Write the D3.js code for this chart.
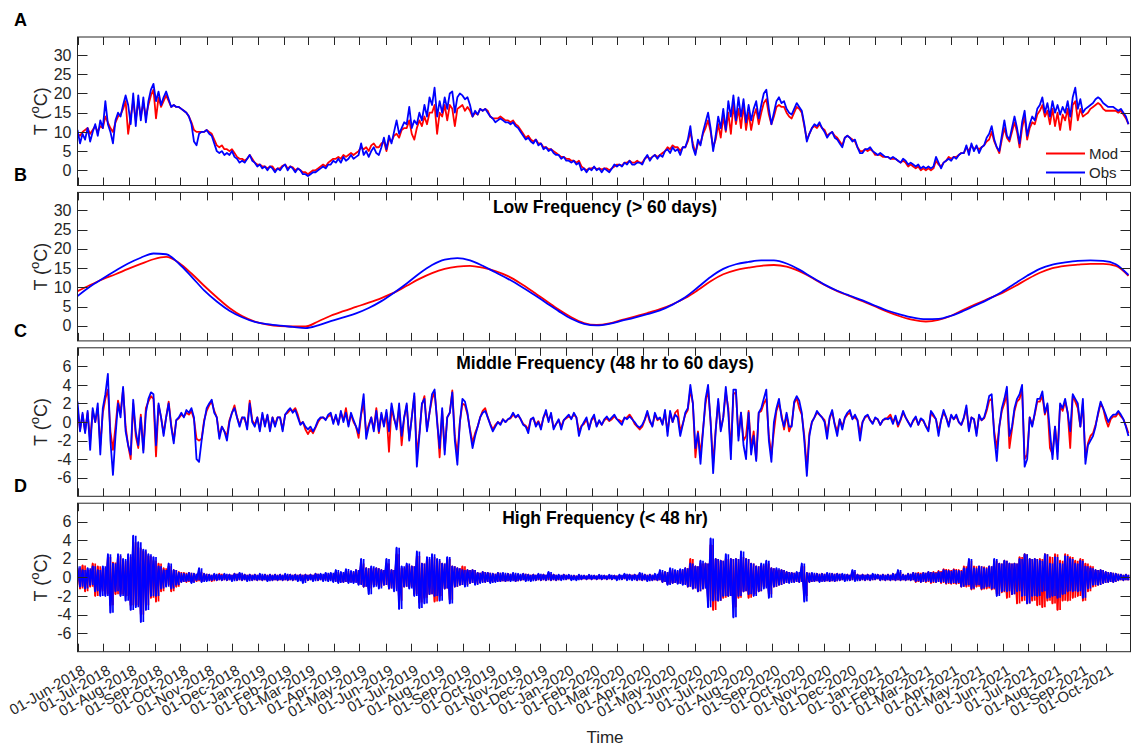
<!DOCTYPE html>
<html>
<head>
<meta charset="utf-8">
<script src="https://cdn.jsdelivr.net/npm/d3@7"></script>
<style>
  body { margin: 0; background: #fff; }
  svg { display: block; font-family: "Liberation Sans", Arial, sans-serif; }
  .tick-label { fill: #262626; font-size: 16px; }
</style>
</head>
<body>
<div id="chart"></div>
<script>
// sampling of the series (days between values)
const stepFull = 3;
const stepLow = 15;

// Panel A: total temperature, 3-day samples from 01-Jun-2018
const obsTotal = [
  10.5,7,9.5,8,11,7.5,10,12,9,13,
  11,18,12,10,7,13,15,14,17,19.5,
  17,12,20,11.5,19.5,13,19,12.5,18,21,
  22.5,18,20.5,17,19,20.5,18.5,16.5,17,16.5,
  16.5,16,15.5,15,14,12,7.5,6.5,9.5,10,
  10,10.5,9.5,9,7,5,4.5,5,4,4.5,
  4,5,3.5,3,2,2.5,2,3,4,2.5,
  2,1,1.5,0.5,1,0,1,0.5,-0.5,0.5,
  0,1,1.5,0,1,0.5,-0.5,0.5,0,-1,
  -1,-1.5,-1,-0.5,-0.5,0,0.5,1,0.5,1.5,
  1.5,2.5,2,3,2,3.5,2.5,3,4,3,
  3.5,4,7,4,5,3.5,5,6,4.5,4,
  6,8.5,5.5,9,7,10,13,9.5,11,12.5,
  12,16.5,11,13,12,15,13,17,14,19,
  17,21.5,14,18,15,19,16,20,20.5,15,
  19,20,19.5,18.5,19,17,14,15.5,14.5,16,
  15.5,16,15,14,13.5,12.5,13,13.5,13,12.5,
  12.5,12,12.5,11.5,11,10,9,8,8.5,7.5,
  7,8,6.5,7,5.5,6,5,5.5,4.5,4,
  4,3,3.5,2.5,2.5,2,2.5,1.5,2,0,
  0.5,-0.5,0.5,0,1,0,0.5,-0.5,0.5,0,
  -0.5,0.5,1.5,1,1.5,1,2,1.5,2.5,1.5,
  1.5,2,2,1.5,3,4,2.5,3.5,4,3,
  4,3.5,5,5.5,4.5,6,5,5.5,4,6,
  6,8,11.5,6,4,8,6.5,10,12.5,15,
  11,5,9,14,11,16,10.5,18,14,19.5,
  13,19,14,18.5,12.5,17,13,16,18,13.5,
  17,20,21,16,12,15,18,19,17.5,18,
  16,15,14.5,16,17.5,16.5,15.5,12,7.5,9.5,
  11,12,11.5,12.5,11,10,8.5,9.5,10,8.5,
  8,7,6,8.5,9,8.5,7.5,8,6,4.5,
  4.5,5.5,5.5,6,5,4.5,4,4.5,4,3.5,
  3.5,3,3.5,3,2.5,2,3,2.5,1.5,2,
  1.5,1,1.5,0.5,1,0.5,1,0.5,1,3.5,
  2,0.5,2,2.5,3,2.5,3.5,3,4,4.5,
  4.5,6.5,4,7,5,6.5,4.5,6,6.5,8.5,
  9.5,11.5,8,6,5,9,13,9,8,11,
  14,11,7,12.5,15.5,9,12,14,13,16,
  17,19,15,17.5,14,18,15,17,14.5,16.5,
  15,18,14,19,21.5,16,18.5,15,16,16.5,
  17,17.5,18.5,19,18.5,17.5,17,16.5,16.5,16.5,
  16,15.5,16,15,14,12
];
const modTotal = [
  9.5,9,10,10.5,11,9.5,10.5,11.5,10,11.5,
  11,14,12.5,11,10,12.5,14,14.5,16,18,
  9.5,14,18,13,18,14,17.5,14,17,19.5,
  21,13.5,19,16.5,18,19.5,18,16.5,17,16.5,
  16.5,16,15.5,15,14,12.5,10.5,10,10,10,
  10,10.5,10,9.5,8,6.5,6,6.5,5.5,5.5,
  5,5.5,4.5,3.5,3,3,2.5,3,4,3,
  2,1.5,1.5,1,1,0.5,1,1,0,0.5,
  0.5,1.2,1.5,0.5,1,0.8,0,0.5,0,-0.5,
  -0.5,-1,-0.5,0,0,0.5,1,1.5,1,2,
  2.5,3,3,3.5,3,4,3.5,4,4.5,4,
  4.5,5,6,5.5,6,5,6.5,7,6,6,
  7,7.5,5,8,7.5,9,9.5,8.5,10.5,11,
  11,13,9.5,8,11,13,11.5,14,12,15,
  15,17,9.5,15,14,17,13,17,16,11.5,
  16,16.5,17,15.5,16.5,15.5,14,15,14.5,16,
  15.5,16,15.5,14,13.5,13.5,13.5,14,13.5,13,
  13,12.5,13,12,11.5,10.5,9.5,8.5,9,8,
  7.5,8,7,7,6,6,5.5,5.5,5,4.5,
  4,3.5,3.5,3,3,2.5,2.5,2,2.5,1,
  0.5,0,0.5,0.5,0.8,0.3,0.5,0.2,0.5,0.5,
  0,0.5,1,1.5,1.5,1.2,2,2,2.5,2,
  2,2.5,2,2,3,3.5,3,3.5,4,3.5,
  4,4.5,5,6,5.5,6.5,6,6,5,6,
  6,7.5,10,7,4.5,7,7,9.5,11,13,
  10,6,8,12,8.5,14,10,15,9.5,17,
  12,16,11,17,10.5,15,10.5,14,16,12,
  15,17.5,18.5,14.5,12,14,16.5,17,16.5,16.5,
  15,14,13.5,15,16.5,16,15,11.5,8,9.5,
  11,11.5,11,12,11,10.5,9,9.5,10,9,
  8.5,7.5,6.5,8.5,9,8.5,8,7.5,6,5,
  5,5.5,5,5.5,5,4,4,4,3.5,3.5,
  3.5,3,3,3,2.5,2,2.5,2,1,1.5,
  1,0.5,1,0,0.5,0,0.5,0,0.5,2.5,
  1.5,1,2,2.5,3.5,3,3.5,3.5,4,4.5,
  4.5,6,5,6.5,5.5,6,5.5,6,6.5,7.5,
  8,10,7.5,6,4.5,8,11,8.5,7.5,10,
  12.5,10,6,11,14,8,11,12.5,12,14.5,
  15.5,17,14,15.5,12,16,11.5,15,10.5,14.5,
  13,16,10.5,17,18,13,16,14,14.5,15,
  16,16.5,17,17.5,17,16,15.5,15.5,15.5,15.5,
  15.5,15,15.5,14.5,13.5,12
];

// Panel B: low frequency (> 60 days), 15-day samples
const obsLow = [
  7.7,10.2,12.3,14.3,16.2,17.7,18.8,18.6,16.2,12.8,
  9.2,6.3,3.9,2.2,1.0,0.4,0.0,-0.3,-0.6,0.1,
  1.2,2.2,3.2,4.6,6.4,8.6,11.0,13.6,15.8,17.2,
  17.6,17.0,15.6,13.9,12.2,10.3,8.2,6.0,3.8,1.8,
  0.5,0.1,0.5,1.3,2.1,3.0,4.0,5.5,7.4,10.0,
  12.7,14.8,16.0,16.6,17.0,17.0,16.2,14.6,12.6,10.7,
  9.1,7.8,6.6,5.2,3.9,2.9,2.1,1.7,1.8,2.6,
  3.9,5.4,7.0,8.8,10.9,13.0,14.8,15.9,16.5,16.9,
  17.0,16.9,16.0,13.2
];
const modLow = [
  9.0,10.6,12.1,13.4,14.8,16.1,17.3,17.9,16.4,13.6,
  10.4,7.4,4.6,2.5,1.1,0.3,-0.1,-0.2,-0.2,1.1,
  2.6,3.8,4.9,6.0,7.2,8.6,10.4,12.2,13.7,14.8,
  15.4,15.6,15.1,14.2,12.9,11.0,8.8,6.5,4.2,2.2,
  0.7,0.2,0.6,1.5,2.4,3.3,4.3,5.6,7.2,9.3,
  11.6,13.4,14.5,15.1,15.6,15.8,15.4,14.2,12.5,10.6,
  9.0,7.7,6.4,5.0,3.6,2.4,1.5,1.1,1.5,2.6,
  4.2,5.7,7.1,8.5,10.2,12.1,13.8,15.0,15.6,15.9,
  16.1,16.1,15.6,13.0
];

// Panel C: middle frequency (48 hr to 60 days), 3-day samples
const obsMid = [
  2.2,-1,1,-1.2,1.2,-3,1.5,0,2,-3.5,
  1.5,3,5.2,-2,-5.7,-1.5,2,0.5,3.8,-1,
  -2.5,-3.5,2.4,-1,-2.5,0.5,-3.3,1,2.5,3.2,
  3,-2.5,2,0.5,-1.5,0.5,2,-0.5,-2.3,0.2,
  0.5,1,0.5,1.3,1,1.5,0.5,-4,-4.3,-2,
  0,1.5,2,2.4,1,0.5,-1.8,-0.5,-1,-2,
  0,1,1.5,0.5,-0.5,0.5,0.5,-0.8,2,0,
  -0.5,0.5,-1,1,-0.5,0.8,-1,0.5,-0.5,0.5,
  0.5,-1,0.8,1.2,1.5,1,1.3,0.5,-0.3,0,
  -0.5,-0.8,-0.5,-1,-0.5,0.2,0.5,0.5,0.2,0.8,
  1,-0.2,0.8,-0.3,1.2,0,1,-0.5,1,0.2,
  -0.5,-1.2,1,3,-1.8,-0.5,0.5,-1,1.2,-1,
  1,-0.5,1.3,-1,2,0.5,-0.8,2,-1.5,0.5,
  2,-2,0.5,3.1,-4.8,-1.5,2,2.5,-1,1,
  3,3.5,0,-2.8,1.5,-3.5,0.5,1,3.2,-2,
  -4.6,0,2.5,2.2,1,-1,-2.8,-1.5,-0.5,0.5,
  1,1.2,0.5,-0.3,-1,-0.5,0,-0.3,0.3,0,
  0.3,0.5,1,0.5,0.8,0.3,-0.3,-0.5,-1.2,0.3,
  0.5,-0.5,0,-0.8,0.5,1.3,0,1,-0.8,-0.2,
  0.3,-0.8,0.2,0.5,0.8,0.3,1,0.5,-1.5,-0.5,
  0,0.5,-0.8,0.3,0.8,-0.5,0.2,-0.3,0.3,0.6,
  0.2,0.5,0.8,0.3,0,-0.3,0.5,0.3,0.6,0.3,
  0,-0.4,-0.6,-0.3,0.3,1.2,0.2,-0.5,1,0.3,
  0.5,-0.3,1.3,-1.5,1.2,0,0.8,0.5,-1.5,-0.3,
  1,1.5,4,2,-2.8,-1.2,-4.5,-1,2.5,4,
  0,-5.5,-1,2.5,-1,0.5,3.8,1,-4,3.5,
  3.5,-2,1,-2.5,-4,1,-3.5,-1.5,-4.2,1,
  1.5,2.5,3.5,-2,-4.3,0,1.5,2.5,0.5,-0.5,
  1,-0.5,-0.5,2.2,2.8,2.3,1,-2,-5.8,-1.5,
  0,0.5,1.2,0.8,0.5,0,-1.8,0.5,1.3,-0.3,
  -1.5,0.3,-0.8,0.5,1,1.3,0.3,0.8,0.2,-2,
  0,0.6,0.8,0.2,-0.2,0.5,0.3,-0.3,0.2,0.4,
  0.3,0.5,-0.2,0.7,-0.3,0.3,1.2,0.5,0,-0.5,
  0.2,0.6,-0.3,0.4,0.2,-0.5,-1,1.2,0.8,0.3,
  -1.5,0.2,1.3,0.5,-0.5,0.8,0.3,0.8,0,-0.3,
  0.5,1.8,-1,0.5,0.3,-1.5,0.8,0.2,0.5,1.5,
  2.8,3,-1.5,-4.2,-0.5,1.5,2.5,3.8,-1.5,-0.5,
  1.5,2.5,3,4,-4.8,-4,0.5,-0.5,1,2.5,
  2.5,3.3,1,2,-1,-4,-0.5,-4,2,1.5,
  2.5,1,-1,3,2.5,2,-0.5,2.5,-4.5,-2.5,
  -2,-1.5,-0.5,1,2.2,1.5,0.8,0,0.5,0.8,
  0.8,1.2,0.8,0.3,-0.5,-1.5
];
const modMid = [
  1.5,-0.8,0.8,-1,1,-2,1.2,0,1.5,-2.5,
  1,2.5,3.5,-1,-3,-0.5,2.3,1,3.5,-0.5,
  -2.5,-4,2,-1.5,-2.8,0.8,-3,1.5,2.2,2.8,
  2.5,-3.7,1.8,0.5,-1.2,0.5,2.2,-0.3,-2,0.2,
  0.4,0.8,0.6,1,0.8,1.2,0.3,-1.8,-2,-1.8,
  0.2,1.2,1.8,2.2,1.2,0.5,-1.5,-0.5,-1,-1.5,
  0.2,1,1.8,0.5,-0.3,0.5,0.3,-0.5,2.3,0.2,
  -0.3,0.5,-0.8,0.8,-0.3,0.7,-0.8,0.5,-0.3,0.5,
  0.5,-0.8,0.8,1,1.3,1.2,1.5,0.8,-0.2,0,
  -0.8,-1.3,-0.8,-1.2,-0.6,0,0.4,0.5,0.3,0.6,
  0.8,0,0.6,-0.2,1,0.2,1.5,-0.3,0.8,0,
  -0.5,-1.7,0.8,2,-1.2,-0.3,0.5,-0.8,1.5,-1.2,
  0.8,-0.3,1,-3.2,1.5,0.3,-0.5,1.5,-2.5,0.5,
  1.8,-1.8,0.5,2.8,-3.5,-1.2,1.8,2.8,-0.8,1,
  2.5,3.2,0.3,-3.8,1.2,-3,0.5,1,3.4,-1.5,
  -3.5,0,2,1.8,0.8,-0.8,-2.2,-1.2,-0.5,0.5,
  1.2,1.5,0.5,-0.2,-0.8,-0.3,0,-0.2,0.3,0,
  0.3,0.4,0.8,0.5,0.7,0.3,-0.2,-0.4,-0.8,0.3,
  0.4,-0.3,0.1,-0.6,0.5,1,0.2,0.8,-0.6,-0.2,
  0.2,-0.5,0.2,0.4,0.6,0.4,0.8,0.5,-1,-0.4,
  -0.2,0.3,-0.6,0.2,0.5,-0.4,0.1,-0.3,0.2,0.4,
  0.1,0.3,0.6,0.3,0.2,0,0.4,0.5,0.8,0.4,
  -0.2,-0.5,-0.8,-0.5,0.2,1,0,-0.4,0.8,0.2,
  0.4,-0.2,1,-1,1,0,1,1.3,-1,-0.2,
  0.8,1.3,3.5,2,-3.8,-1,-3.5,-0.8,2,3.6,
  0,-4.5,-0.8,2.2,-0.8,0.5,3.2,1.5,-3.2,3,
  3.2,-1.5,1,-2,-1.5,1.2,-2.8,-1,-4,1,
  1.2,2,2.5,-1.5,-3.5,-1,1.2,2,0.8,-0.8,
  0.8,-1,-0.3,2,2.6,1.5,0.8,-1.5,-5,-1.2,
  0,0.5,1,0.8,0.5,0.2,-1.2,0.4,1.1,-0.2,
  -1,0.3,-0.5,0.4,0.8,1,0.4,0.5,0.2,-1.2,
  0,0.5,0.7,0.2,-0.1,0.4,0.3,-0.3,0.2,0.3,
  0.5,0.8,0,0.5,-0.5,0.2,1,0.5,0,-0.4,
  0.1,0.5,-0.3,0.3,0.1,-0.4,-0.8,1,0.6,0.3,
  -1,0.2,1,0.5,-0.3,0.7,0.3,0.6,0,-0.3,
  0.4,1.5,-0.8,0.5,0.3,-1.2,0.6,0.2,0.4,1.2,
  2.3,2.5,-1,-2.8,-0.5,1.2,2,3,-2.8,-0.8,
  1.2,2.2,2.5,3.5,-4,-3.5,0.5,-0.3,0.8,2.2,
  2.2,2.8,0.8,1.8,-2.8,-3.5,-0.5,-3.2,1.8,1.2,
  2.2,1,-2.8,2.8,2.2,1.5,-0.5,2,-3.8,-2.3,
  -1.5,-1.2,-0.3,0.8,2,1.5,0.3,-0.5,0.3,0.6,
  0.6,1,0.6,0.3,-0.4,-1.2
];

// Panel D: high frequency (< 48 hr), 3-day samples (alternating swing peaks)
const obsHigh = [
  1.2,-1,0.8,-1.2,1,-0.8,1.2,-1.5,0.8,-2,
  1.2,-2,2.5,-3.8,1.5,-1.5,2.5,-2,2,-2.5,
  2.5,-3.5,4.5,-3.2,3.8,-4.8,3,-3.5,2.5,-2,
  2.2,-2,1.2,-1.2,0.8,-1,1.5,-1.2,0.8,-0.8,
  0.5,-0.5,0.4,-0.4,0.5,-0.6,0.4,-0.3,1,-0.5,
  0.4,-0.4,0.3,-0.3,0.4,-0.3,0.3,-0.3,0.4,-0.3,
  0.3,-0.4,0.4,-0.3,0.5,-0.3,0.3,-0.4,0.3,-0.3,
  0.3,-0.3,0.4,-0.3,0.3,-0.4,0.3,-0.3,0.3,-0.3,
  0.3,-0.3,0.4,-0.3,0.3,-0.3,0.3,-0.4,0.3,-0.6,
  0.3,-0.3,0.3,-0.4,0.4,-0.3,0.4,-0.4,0.5,-0.4,
  0.5,-0.5,0.8,-0.6,0.6,-0.5,0.9,-0.6,0.7,-0.6,
  0.8,-0.8,2,-1,1,-1.8,1.2,-1,1,-1.2,
  0.8,-0.8,2,-1.2,0.8,-1.5,3.2,-3.4,1.2,-1,
  1.5,-1.2,1.2,-2,2.8,-3.3,1.5,-2.8,2.2,-1.8,
  2.5,-2,2,-2.5,1.5,-1.2,2.2,-2.8,1.2,-1,
  1,-0.8,0.8,-1,0.8,-0.6,0.8,-0.8,0.5,-0.6,
  0.6,-0.5,0.5,-0.6,0.4,-0.5,0.5,-0.4,0.5,-0.4,
  0.4,-0.4,0.5,-0.4,0.4,-0.3,0.4,-0.4,0.3,-0.4,
  0.3,-0.3,0.4,-0.3,0.3,-0.3,0.6,-0.3,0.3,-0.3,
  0.3,-0.3,0.3,-0.2,0.3,-0.3,0.2,-0.3,0.3,-0.2,
  0.2,-0.2,0.3,-0.2,0.2,-0.2,0.3,-0.2,0.2,-0.2,
  0.3,-0.2,0.2,-0.3,0.3,-0.2,0.4,-0.3,0.3,-0.3,
  0.3,-0.3,0.5,-0.3,0.3,-0.4,0.3,-0.3,0.4,-0.3,
  0.8,-0.5,0.6,-0.8,1,-0.6,0.8,-0.7,0.9,-0.8,
  1,-1,1.5,-1.2,1.2,-1.5,1.8,-1.2,1.5,-3.2,
  4.2,-2.5,2,-2.5,1.8,-2,2.5,-2,2,-4.3,
  2,-2,2.8,-1.5,2,-1.8,1.5,-2,1.2,-1.5,
  1.5,-1.2,1.8,-2.2,1,-1,1,-0.8,0.8,-0.6,
  0.6,-0.6,0.5,-0.5,0.6,-0.5,1.5,-2.6,0.5,-0.5,
  0.5,-0.4,0.4,-0.5,0.4,-0.4,0.5,-0.4,0.4,-0.4,
  0.4,-0.3,0.4,-0.4,0.3,-0.3,0.8,-0.4,0.3,-0.3,
  0.3,-0.3,0.3,-0.3,0.4,-0.2,0.3,-0.3,0.3,-0.3,
  0.3,-0.3,0.4,-0.3,0.8,-0.3,0.3,-0.3,0.4,-0.3,
  0.5,-0.4,0.4,-0.5,0.5,-0.4,0.6,-0.5,0.5,-0.5,
  0.6,-0.5,0.8,-0.6,0.7,-0.6,0.8,-0.6,0.7,-1,
  1,-0.8,2,-1.2,1,-0.8,1.2,-1.2,1,-1,
  1.2,-1.2,2,-2,1.5,-1.5,1.8,-1.5,1.5,-1.8,
  1.5,-1.5,2,-2,2.5,-2.8,2,-2,2,-2,
  1.8,-1.5,2.5,-2.2,1.5,-2,2.2,-2.2,1.5,-1.8,
  2.3,-1.5,2,-1.5,1.5,-1.5,1.8,-2.2,1.2,-1.2,
  1,-0.8,0.8,-0.8,0.8,-0.6,0.6,-0.5,0.5,-0.5,
  0.4,-0.3,0.3,-0.3,0.3,-0.3
];
const modHigh = [
  1,-1.2,1.3,-1.5,0.8,-1,1.5,-2,1.2,-1.5,
  1,-1.8,2.2,-3,1.6,-1.8,2.3,-1.8,1.8,-2,
  2.2,-3,3.8,-3,3.2,-4,2.8,-3,2.3,-2.2,
  1.8,-2.6,1.5,-1.5,1,-0.8,1.2,-1.5,0.8,-1,
  0.6,-0.5,0.5,-0.5,0.5,-0.5,0.4,-0.4,0.6,-0.4,
  0.4,-0.3,0.3,-0.4,0.3,-0.3,0.4,-0.3,0.3,-0.3,
  0.3,-0.3,0.4,-0.3,0.4,-0.3,0.3,-0.3,0.3,-0.3,
  0.3,-0.3,0.3,-0.3,0.3,-0.3,0.3,-0.3,0.3,-0.3,
  0.3,-0.3,0.3,-0.3,0.3,-0.3,0.3,-0.3,0.3,-0.4,
  0.3,-0.3,0.3,-0.3,0.4,-0.3,0.3,-0.3,0.4,-0.3,
  0.4,-0.4,0.6,-0.5,0.5,-0.5,0.7,-0.5,0.6,-0.5,
  0.8,-0.7,1.5,-1,1,-1.2,1,-0.8,1,-1,
  0.8,-0.8,1.5,-1.2,0.8,-1.2,2.5,-2.5,1,-1,
  1.3,-1,1.2,-1.8,2.3,-2.7,1.5,-2.2,2,-1.8,
  2.2,-2.6,1.8,-2,1.5,-1.2,2,-2.4,1.2,-1,
  1,-0.8,1.2,-0.8,0.8,-0.6,0.8,-0.7,0.5,-0.5,
  0.6,-0.5,0.5,-0.5,0.4,-0.4,0.5,-0.4,0.4,-0.4,
  0.4,-0.3,0.4,-0.4,0.3,-0.3,0.4,-0.3,0.3,-0.3,
  0.3,-0.3,0.3,-0.3,0.3,-0.3,0.4,-0.3,0.3,-0.3,
  0.2,-0.2,0.3,-0.2,0.2,-0.2,0.2,-0.2,0.2,-0.2,
  0.2,-0.2,0.2,-0.2,0.2,-0.2,0.2,-0.2,0.2,-0.2,
  0.2,-0.2,0.2,-0.2,0.2,-0.2,0.3,-0.2,0.3,-0.2,
  0.3,-0.3,0.4,-0.3,0.3,-0.3,0.3,-0.3,0.3,-0.3,
  0.6,-0.5,0.6,-0.7,0.8,-0.6,0.7,-0.6,0.8,-0.7,
  1,-1,2,-1.2,1.2,-1.5,1.5,-1.2,1.5,-2.5,
  3.5,-3.5,2,-2.5,1.8,-2.2,2,-2,2,-3.2,
  2,-2.2,2.2,-1.5,2,-2.2,1.5,-1.8,1.2,-1.5,
  1.3,-1,1.5,-1.8,1,-1,0.8,-0.8,0.8,-0.6,
  0.6,-0.5,0.5,-0.5,0.5,-0.5,1.2,-2,0.5,-0.5,
  0.4,-0.4,0.4,-0.4,0.4,-0.4,0.4,-0.4,0.4,-0.4,
  0.4,-0.3,0.3,-0.3,0.3,-0.3,0.6,-0.3,0.3,-0.3,
  0.3,-0.3,0.3,-0.3,0.3,-0.2,0.3,-0.3,0.3,-0.3,
  0.3,-0.3,0.4,-0.3,0.6,-0.3,0.3,-0.3,0.4,-0.3,
  0.5,-0.5,0.5,-0.5,0.5,-0.5,0.6,-0.6,0.6,-0.5,
  0.7,-0.6,0.9,-0.7,0.8,-0.7,0.9,-0.7,0.8,-1,
  1.2,-1,1.8,-1.3,1.2,-1,1.2,-1.3,1.1,-1.2,
  1.2,-1.3,1.8,-1.8,1.5,-1.6,1.8,-2.2,1.5,-1.8,
  1.5,-2.8,2.2,-2.5,2.5,-2.8,2,-2.5,2,-3,
  2,-3.2,2.5,-2.5,2.2,-2.8,2.5,-3.5,1.8,-2.5,
  2.5,-2.5,2.2,-2.2,1.8,-2,2,-2.5,1.5,-1.5,
  1.2,-1,0.8,-0.8,0.8,-0.6,0.6,-0.5,0.5,-0.5,
  0.4,-0.3,0.3,-0.3,0.3,-0.3
];

const panelLetters = ["A", "B", "C", "D"];
const panelTitles = ["", "Low Frequency (> 60 days)", "Middle Frequency (48 hr to 60 days)", "High Frequency (< 48 hr)"];
const tickWide = [0, 5, 10, 15, 20, 25, 30];
const tickNarrow = [-6, -4, -2, 0, 2, 4, 6];
const legendNames = ["Mod", "Obs"];

const startDate = Date.UTC(2018, 5, 1);
const endDate = Date.UTC(2021, 9, 30, 10);
const dayMs = 86400000;

const W = 1131, H = 747;
const left = 77.5, right = 1130.5;
const panelTop = 37, panelStep = 155.4, panelH = 148.5;
const colors = { mod: "#ff0000", obs: "#0000ff" };
const axisColor = "#262626";
const lineW = 1.8;

const svg = d3.select("#chart").append("svg").attr("width", W).attr("height", H);

const x = d3.scaleUtc().domain([startDate, endDate]).range([left, right]);
const months = d3.utcMonth.range(new Date(startDate), new Date(Date.UTC(2021, 9, 2)));
const fmt = d3.utcFormat("%d-%b-%Y");

const panels = [
  { series: [modTotal, obsTotal], step: stepFull, domain: [-3.95, 34.7], ticks: tickWide, curve: d3.curveLinear },
  { series: [modLow, obsLow], step: stepLow, domain: [-3.95, 34.7], ticks: tickWide, curve: d3.curveMonotoneX },
  { series: [modMid, obsMid], step: stepFull, domain: [-8, 8], ticks: tickNarrow, curve: d3.curveLinear },
  { series: [modHigh, obsHigh], step: stepFull, domain: [-8, 8], ticks: tickNarrow, curve: d3.curveLinear, band: true }
];

panels.forEach((p, k) => {
  const top = panelTop + k * panelStep;
  const bottom = top + panelH;
  const y = d3.scaleLinear().domain(p.domain).range([bottom, top]);
  const g = svg.append("g");
  const xAt = i => x(startDate + i * p.step * dayMs);

  svg.append("clipPath").attr("id", "clip" + k)
    .append("rect").attr("x", left).attr("y", top).attr("width", right - left).attr("height", panelH);

  const line = d3.line()
    .x((d, i) => xAt(i))
    .y(d => y(d))
    .curve(p.curve);

  const plot = g.append("g").attr("clip-path", `url(#clip${k})`);
  p.series.forEach((s, j) => {
    const col = j === 0 ? colors.mod : colors.obs;
    if (p.band) {
      // hourly signal is too dense to resolve: fill the swing between neighbouring peaks
      plot.append("path")
        .attr("fill", "none").attr("stroke", col).attr("stroke-width", 1.7)
        .attr("d", s.slice(1).map((v, i) => `M${xAt(i + 1)},${y(s[i])}L${xAt(i + 1)},${y(v)}`).join(""));
    }
    plot.append("path")
      .datum(s)
      .attr("fill", "none")
      .attr("stroke", col)
      .attr("stroke-width", lineW)
      .attr("stroke-linejoin", "round")
      .attr("d", line);
  });

  // box
  g.append("rect")
    .attr("x", left).attr("y", top).attr("width", right - left).attr("height", panelH)
    .attr("fill", "none").attr("stroke", axisColor).attr("stroke-width", 1);

  // x ticks (top and bottom, inward)
  months.forEach(m => {
    const xm = Math.round(x(m)) + 0.5;
    g.append("line").attr("x1", xm).attr("x2", xm).attr("y1", top).attr("y2", top + 8)
      .attr("stroke", axisColor);
    g.append("line").attr("x1", xm).attr("x2", xm).attr("y1", bottom).attr("y2", bottom - 8)
      .attr("stroke", axisColor);
  });

  // y ticks (left and right, inward)
  p.ticks.forEach(t => {
    const yt = Math.round(y(t)) + 0.5;
    g.append("line").attr("x1", left).attr("x2", left + 10).attr("y1", yt).attr("y2", yt).attr("stroke", axisColor);
    g.append("line").attr("x1", right).attr("x2", right - 10).attr("y1", yt).attr("y2", yt).attr("stroke", axisColor);
    g.append("text").attr("class", "tick-label")
      .attr("x", left - 6).attr("y", y(t)).attr("dy", "0.35em")
      .attr("text-anchor", "end").text(t);
  });

  // y label
  const yl = g.append("text")
    .attr("transform", `translate(47,${(top + bottom) / 2}) rotate(-90)`)
    .attr("text-anchor", "middle").attr("fill", axisColor).style("font-size", "18px");
  yl.append("tspan").text("T (");
  yl.append("tspan").attr("dy", -8).style("font-size", "13px").text("o");
  yl.append("tspan").attr("dy", 8).text("C)");

  // panel letter
  g.append("text").attr("x", 14).attr("y", top - 11)
    .style("font-size", "18px").style("font-weight", "bold").attr("fill", "#000")
    .text(panelLetters[k]);

  if (panelTitles[k]) {
    g.append("text").attr("x", 605).attr("y", top + 21)
      .attr("text-anchor", "middle").style("font-size", "17.5px").style("font-weight", "bold")
      .attr("fill", "#000").text(panelTitles[k]);
  }

  // legend in panel A
  if (k === 0) {
    legendNames.forEach((name, j) => {
      const ly = 153.5 + j * 19;
      g.append("line").attr("x1", 1046).attr("x2", 1085).attr("y1", ly).attr("y2", ly)
        .attr("stroke", j === 0 ? colors.mod : colors.obs).attr("stroke-width", lineW);
      g.append("text").attr("x", 1089).attr("y", ly).attr("dy", "0.35em")
        .attr("fill", axisColor).style("font-size", "15px").text(name);
    });
  }

  // date labels under last panel
  if (k === panels.length - 1) {
    months.forEach(m => {
      g.append("text").attr("class", "tick-label")
        .attr("transform", `translate(${x(m) + 3},${bottom + 12}) rotate(-30)`)
        .attr("text-anchor", "end").attr("dy", "0.75em")
        .style("font-size", "15px")
        .text(fmt(m));
    });
    g.append("text").attr("x", 605).attr("y", 743).attr("text-anchor", "middle")
      .attr("fill", axisColor).style("font-size", "17px").text("Time");
  }
});
</script>
</body>
</html>
